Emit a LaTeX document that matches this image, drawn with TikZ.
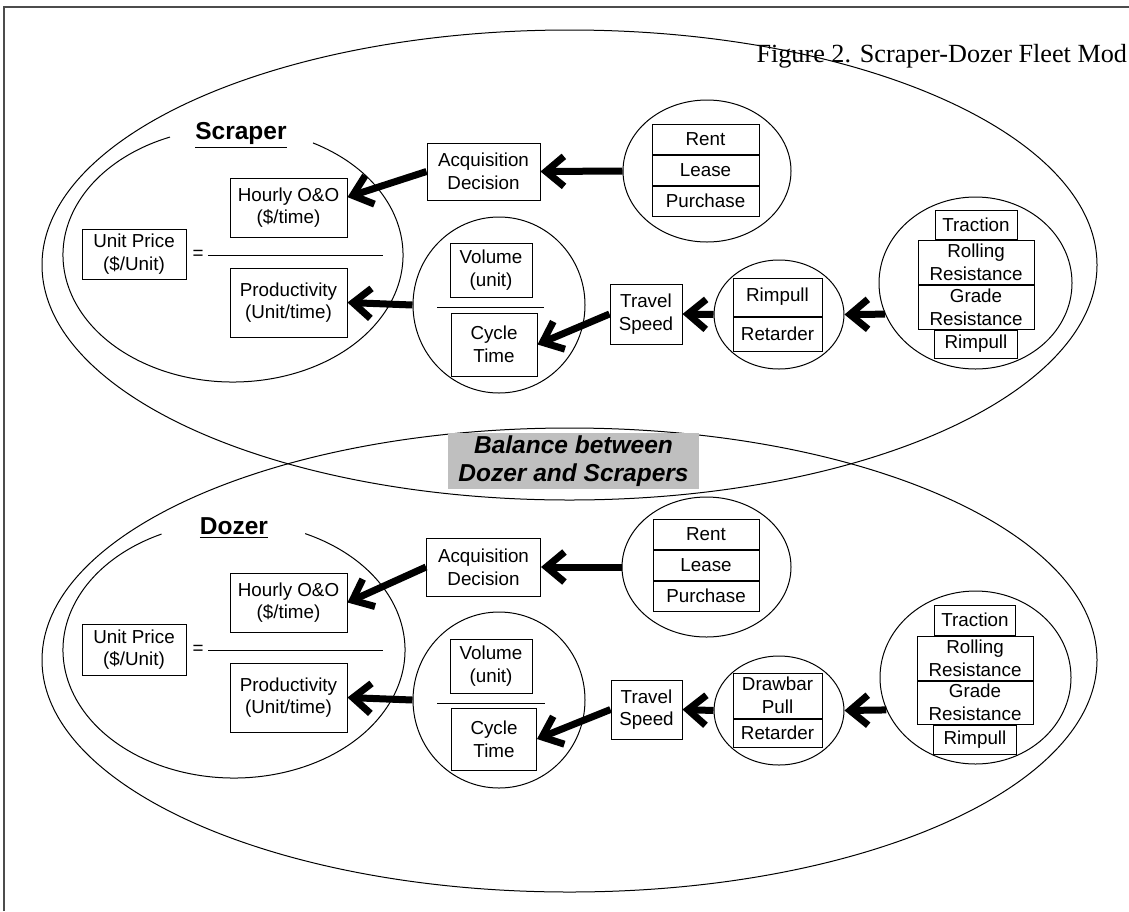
\documentclass[tikz,border=0pt]{standalone}
\usepackage{fontspec}
\setmainfont{Liberation Sans}
\newfontfamily\titlefont{Liberation Serif}
\usepackage{tikz}
\usetikzlibrary{shapes, arrows.meta, positioning}

\begin{document}
\begin{tikzpicture}[x=0.5pt, y=-0.5pt, line width=0.5pt,
    box/.style={rectangle, draw, fill=white, align=center, inner sep=0pt, font=\fontsize{9.4}{11.3}\selectfont},
    cell/.style={box, minimum width=53.5pt, minimum height=15pt},
    bubble/.style={ellipse, draw, inner sep=0pt},
    area/.style={ellipse, draw, inner sep=0pt, minimum width=527.5pt},
    heading/.style={inner sep=1pt, font=\fontsize{12.25}{14.3}\selectfont\bfseries},
    line/.style={draw, line width=3.5pt, -{Straight Barb[length=9pt, width=15pt, sharp]}}]

    \useasboundingbox (0,0) rectangle (1129,911);

    % frame and title
    \draw[line width=0.7pt, black!70] (4,911) -- (4,7) -- (1129,7);
    \node [area, minimum height=235pt] (scraperArea) at (569.5,265) {};
    \node [area, minimum height=232pt] (dozerArea) at (569.5,660) {};
    \node [anchor=base west, inner sep=0pt, font=\titlefont\fontsize{13.1}{15}\selectfont] (title) at (756,62) {Figure 2. Scraper-Dozer Fleet Mod};

    % scraper
    \draw (233,255) ++(298.07:170 and 127) arc[start angle=298.07, end angle=608.25, x radius=170, y radius=127];
    \node [heading] (scraperLbl) at (241,135) {\underline{Scraper}};
    \node [box, minimum width=52pt, minimum height=25pt] (unitS) at (134,254) {Unit Price\\(\$/Unit)};
    \node [box, draw=none, fill=none] (eqS) at (198,255) {=};
    \draw (208,255) -- (383,255);
    \node [box, minimum width=58.5pt, minimum height=29.5pt] (hourlyS) at (288.5,207.5) {Hourly O\&O\\(\$/time)};
    \node [box, minimum width=58.5pt, minimum height=34.5pt] (prodS) at (288.5,302.5) {Productivity\\(Unit/time)};
    \node [box, minimum width=56.5pt, minimum height=28.5pt] (acqS) at (483.5,171.5) {Acquisition\\Decision};
    \node [bubble, minimum width=84pt, minimum height=71pt] (buyS) at (707,171) {};
    \node [cell] (rentS) at (705.5,139) {Rent};
    \node [cell, below=0pt of rentS] (leaseS) {Lease};
    \node [cell, below=0pt of leaseS] (purchS) {Purchase};
    \node [bubble, minimum width=86pt, minimum height=88pt] (ratioS) at (499,305) {};
    \node [box, minimum width=41pt, minimum height=27pt] (volS) at (491,270) {Volume\\(unit)};
    \draw (437,307) -- (544,307);
    \node [box, minimum width=43pt, minimum height=31.5pt] (cycS) at (494,344.5) {Cycle\\Time};
    \node [box, minimum width=36pt, minimum height=30pt] (travelS) at (646,314) {Travel\\Speed};
    \node [bubble, minimum width=65pt, minimum height=54.5pt] (pullS) at (779,314.5) {};
    \node [box, minimum width=44.5pt, minimum height=19pt] (rimS) at (777.5,297) {Rimpull};
    \node [box, minimum width=44.5pt, minimum height=17pt, below=0pt of rimS] (retS) {Retarder};
    \node [bubble, minimum width=96.5pt, minimum height=86pt] (forceS) at (975.5,283) {};
    \node [box, minimum width=41pt, minimum height=14.5pt] (tracS) at (976,224.5) {Traction};
    \node [box, minimum width=58pt, minimum height=22pt, below=0pt of tracS] (rollS) {Rolling\\Resistance};
    \node [box, minimum width=58pt, minimum height=22pt, below=0pt of rollS] (gradeS) {Grade\\Resistance};
    \node [box, minimum width=41.5pt, minimum height=14pt, below=0pt of gradeS] (rimpS) {Rimpull};

    \path [line] (acqS.west) -- (hourlyS.10);
    \path [line] (buyS.west) -- (acqS.east);
    \path [line] (ratioS.west) -- (prodS.east);
    \path [line] (travelS.west) -- (cycS.east);
    \path [line] (pullS.west) -- (travelS.east);
    \path [line] (forceS.199) -- (pullS.east);

    % balance
    \node [box, draw=none, fill=gray!50, minimum width=125.5pt, minimum height=28pt, font=\fontsize{12.25}{14.3}\selectfont\bfseries\itshape] (balance) at (573.5,461) {Balance between\\Dozer and Scrapers};

    % dozer
    \draw (234,650) ++(294.6:171 and 128) arc[start angle=294.6, end angle=604.94, x radius=171, y radius=128];
    \node [heading] (dozerLbl) at (234,528) {\underline{Dozer}};
    \node [box, minimum width=52pt, minimum height=25.5pt] (unitD) at (134,649.5) {Unit Price\\(\$/Unit)};
    \node [box, draw=none, fill=none] (eqD) at (198,650) {=};
    \draw (208,650) -- (383,650);
    \node [box, minimum width=58.5pt, minimum height=29.5pt] (hourlyD) at (288.5,602.5) {Hourly O\&O\\(\$/time)};
    \node [box, minimum width=58.5pt, minimum height=34.5pt] (prodD) at (288.5,697.5) {Productivity\\(Unit/time)};
    \node [box, minimum width=57pt, minimum height=29pt] (acqD) at (483.5,567) {Acquisition\\Decision};
    \node [bubble, minimum width=84.5pt, minimum height=70pt] (buyD) at (706.5,567) {};
    \node [cell, minimum width=53pt] (rentD) at (706,534) {Rent};
    \node [cell, minimum width=53pt, below=0pt of rentD] (leaseD) {Lease};
    \node [cell, minimum width=53pt, below=0pt of leaseD] (purchD) {Purchase};
    \node [bubble, minimum width=86pt, minimum height=88pt] (ratioD) at (499,700) {};
    \node [box, minimum width=41pt, minimum height=27pt] (volD) at (491,666) {Volume\\(unit)};
    \draw (437,703) -- (545,703);
    \node [box, minimum width=42.5pt, minimum height=31pt] (cycD) at (494,739) {Cycle\\Time};
    \node [box, minimum width=35.5pt, minimum height=29.5pt] (travelD) at (646.5,709.5) {Travel\\Speed};
    \node [bubble, minimum width=65pt, minimum height=54.5pt] (pullD) at (779,710.5) {};
    \node [box, minimum width=44.5pt, minimum height=22.5pt] (drawD) at (777.5,695.5) {Drawbar\\Pull};
    \node [box, minimum width=44.5pt, minimum height=14pt, below=0pt of drawD] (retD) {Retarder};
    \node [bubble, minimum width=95.5pt, minimum height=86.5pt] (forceD) at (975.5,677.5) {};
    \node [box, minimum width=40.5pt, minimum height=15pt] (tracD) at (975,620) {Traction};
    \node [box, minimum width=58pt, minimum height=22pt, below=0pt of tracD] (rollD) {Rolling\\Resistance};
    \node [box, minimum width=58pt, minimum height=21.5pt, below=0pt of rollD] (gradeD) {Grade\\Resistance};
    \node [box, minimum width=41.5pt, minimum height=14.5pt, below=0pt of gradeD] (rimpD) {Rimpull};

    \path [line] (acqD.west) -- (hourlyD.east);
    \path [line] (buyD.west) -- (acqD.east);
    \path [line] (ratioD.west) -- (prodD.east);
    \path [line] (travelD.west) -- (cycD.east);
    \path [line] (pullD.west) -- (travelD.east);
    \path [line] (forceD.200) -- (pullD.east);

\end{tikzpicture}
\end{document}
